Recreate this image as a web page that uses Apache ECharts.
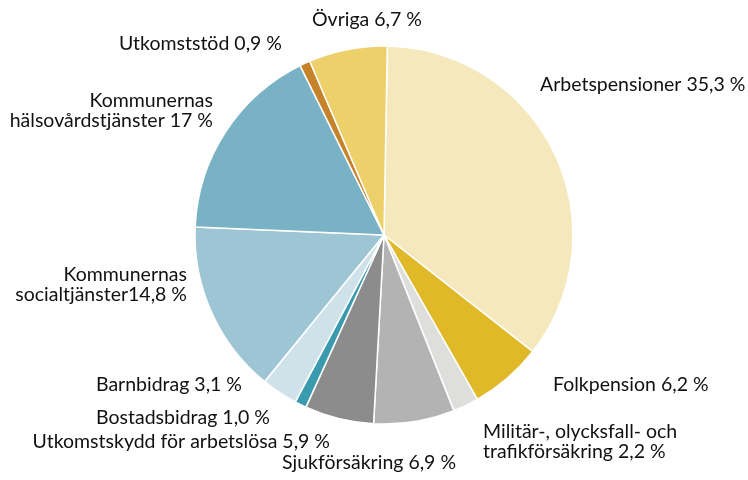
<!DOCTYPE html>
<html>
<head>
<meta charset="utf-8">
<script src="https://cdn.jsdelivr.net/npm/echarts@6/dist/echarts.min.js"></script>
<style>
html,body{margin:0;padding:0;background:#fff;}
#chart{width:748px;height:480px;}
</style>
</head>
<body>
<div id="chart"></div>
<script>
const categories = [
  'Arbetspensioner',
  'Folkpension',
  'Militär-, olycksfall- och\ntrafikförsäkring',
  'Sjukförsäkring',
  'Utkomstskydd för arbetslösa',
  'Bostadsbidrag',
  'Barnbidrag',
  'Kommunernas\nsocialtjänster',
  'Kommunernas\nhälsovårdstjänster',
  'Utkomststöd',
  'Övriga'
];
const values = [35.3, 6.2, 2.2, 6.9, 5.9, 1.0, 3.1, 14.8, 17, 0.9, 6.7];
const valueLabels = ['35,3 %', '6,2 %', '2,2 %', '6,9 %', '5,9 %', '1,0 %', '3,1 %', '14,8 %', '17 %', '0,9 %', '6,7 %'];
const colors = ['#F5E8BC', '#E0B929', '#DEDFDD', '#B3B3B3', '#8C8C8C', '#3A9BAF', '#CFE2E9', '#9DC5D3', '#78B2C4', '#C6832A', '#EDD06A'];

// label placement (x, y, align) per slice
const labelPos = [
  [540, 85, 'left'],
  [553, 385, 'left'],
  [483, 442, 'left'],
  [282, 463, 'left'],
  [330, 442, 'right'],
  [270, 418, 'right'],
  [242, 385, 'right'],
  [187, 285, 'right'],
  [213, 111, 'right'],
  [282, 44, 'right'],
  [312, 20, 'left']
];

const seps = [' ', ' ', ' ', ' ', ' ', ' ', ' ', '', ' ', ' ', ' '];

const data = categories.map((c, i) => ({
  name: c,
  value: values[i],
  itemStyle: { color: colors[i] },
  label: { formatter: c + seps[i] + valueLabels[i] }
}));

const chart = echarts.init(document.getElementById('chart'), null, { renderer: 'canvas' });
chart.setOption({
  animation: false,
  series: [{
    type: 'pie',
    center: [384, 235],
    radius: 189,
    startAngle: 89,
    clockwise: true,
    data: data,
    itemStyle: { borderColor: '#ffffff', borderWidth: 1.5 },
    label: {
      show: true,
      position: 'outside',
      fontFamily: 'Lato',
      fontSize: 19.5,
      lineHeight: 20,
      color: '#111111',
      overflow: 'none'
    },
    labelLine: { show: false },
    labelLayout: function (params) {
      const p = labelPos[params.dataIndex];
      return { x: p[0], y: p[1], align: p[2], verticalAlign: 'middle' };
    }
  }]
});
</script>
</body>
</html>
